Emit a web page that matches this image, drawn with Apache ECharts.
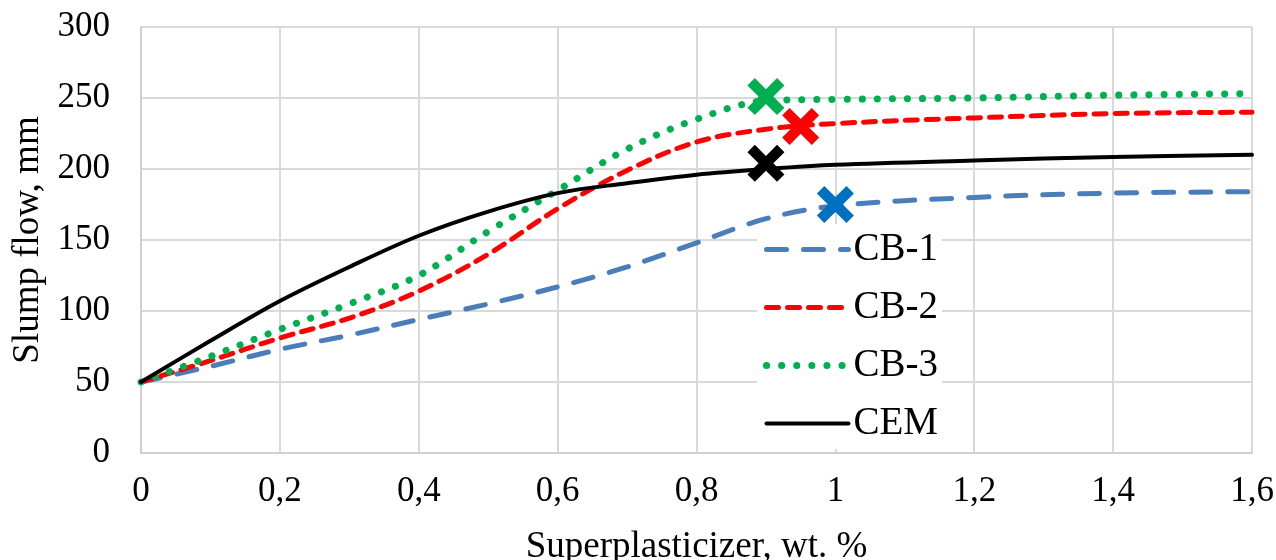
<!DOCTYPE html>
<html>
<head>
<meta charset="utf-8">
<script src="https://cdn.jsdelivr.net/npm/echarts@6/dist/echarts.min.js"></script>
<style>
  html, body { margin: 0; padding: 0; background: #fff; }
  #chart { width: 1276px; height: 560px; }
</style>
</head>
<body>
<div id="chart"></div>
<script>
// superplasticizer dosage, wt. %
const dosage = [0, 0.1, 0.2, 0.3, 0.4, 0.5, 0.6, 0.7, 0.8, 0.9, 1.0, 1.2, 1.4, 1.6];
// slump flow, mm
const cb1 = [50, 61, 73, 83, 94, 105, 117, 131, 148, 165, 174, 180, 183, 184];
const cb2 = [50, 65, 81, 95, 114, 140, 172, 199, 219, 228, 232, 236, 239, 240];
const cb3 = [50, 68, 87, 105, 125, 156, 185, 214, 235, 248, 249, 250, 252, 253];
const cem = [50, 79, 107, 131, 153, 170, 183, 190, 196, 200, 203, 206, 208.5, 210];
// optimum points (x marks)
const optimum = [
  { name: 'CB-3', x: 0.9, y: 251, color: '#00B050' },
  { name: 'CB-2', x: 0.95, y: 230, color: '#FF0000' },
  { name: 'CEM', x: 0.9, y: 204, color: '#000000' },
  { name: 'CB-1', x: 1.0, y: 175, color: '#0070C0' }
];

const font = 'Liberation Serif';
const crossPath = 'path://M20,0 L50,30 L80,0 L100,20 L70,50 L100,80 L80,100 L50,70 L20,100 L0,80 L30,50 L0,20 Z';

function pairs(ys) {
  return dosage.map((x, i) => [x, ys[i]]);
}

function curve(name, ys, color, width, type) {
  return {
    name: name,
    type: 'line',
    data: pairs(ys),
    smooth: 0.35,
    symbol: 'none',
    z: 3,
    itemStyle: { color: color },
    lineStyle: { color: color, width: width, type: type, cap: 'round' }
  };
}

var myChart = echarts.init(document.getElementById('chart'));
myChart.setOption({
  animation: false,
  backgroundColor: '#fff',
  grid: { left: 141, right: 24, top: 27, bottom: 107, outerBoundsMode: 'none', containLabel: false },
  xAxis: {
    type: 'value',
    min: 0, max: 1.6, interval: 0.2,
    name: 'Superplasticizer, wt. %',
    nameLocation: 'middle',
    nameGap: 76,
    nameTextStyle: { fontFamily: font, fontSize: 37, color: '#000' },
    axisLine: { show: true, lineStyle: { color: '#d0d0d0', width: 2 } },
    axisTick: { show: false },
    splitLine: { show: true, lineStyle: { color: '#d9d9d9', width: 2 } },
    axisLabel: {
      margin: 21,
      fontFamily: font, fontSize: 35, color: '#000',
      formatter: v => String(Math.round(v * 10) / 10).replace('.', ',')
    }
  },
  yAxis: {
    type: 'value',
    min: 0, max: 300, interval: 50,
    name: 'Slump flow, mm',
    nameLocation: 'middle',
    nameGap: 94,
    nameTextStyle: { fontFamily: font, fontSize: 37, color: '#000' },
    axisLine: { show: true, lineStyle: { color: '#d0d0d0', width: 2 } },
    axisTick: { show: false },
    splitLine: { show: true, lineStyle: { color: '#d9d9d9', width: 2 } },
    axisLabel: { margin: 31, fontFamily: font, fontSize: 35, color: '#000' }
  },
  legend: {
    data: ['CB-1', 'CB-2', 'CB-3', 'CEM'],
    orient: 'vertical',
    left: 757, top: 224,
    backgroundColor: '#fff',
    padding: [6, 4, 6, 6],
    itemWidth: 82,
    itemHeight: 12,
    itemGap: 19,
    itemStyle: { opacity: 0 },
    lineStyle: { width: 'inherit' },
    textStyle: { fontFamily: font, fontSize: 39, color: '#000', lineHeight: 30 }
  },
  series: [
    curve('CB-1', cb1, '#4A7EBB', 5, [20, 17]),
    curve('CB-2', cb2, '#FF0000', 5, [12, 9]),
    curve('CB-3', cb3, '#00B050', 7, [0.1, 15]),
    curve('CEM', cem, '#000000', 4, 'solid'),
    {
      name: 'optimum',
      type: 'scatter',
      symbol: crossPath,
      symbolSize: 37,
      z: 5,
      data: optimum.map(p => ({ value: [p.x, p.y], itemStyle: { color: p.color, opacity: 1 } }))
    }
  ]
});
</script>
</body>
</html>
